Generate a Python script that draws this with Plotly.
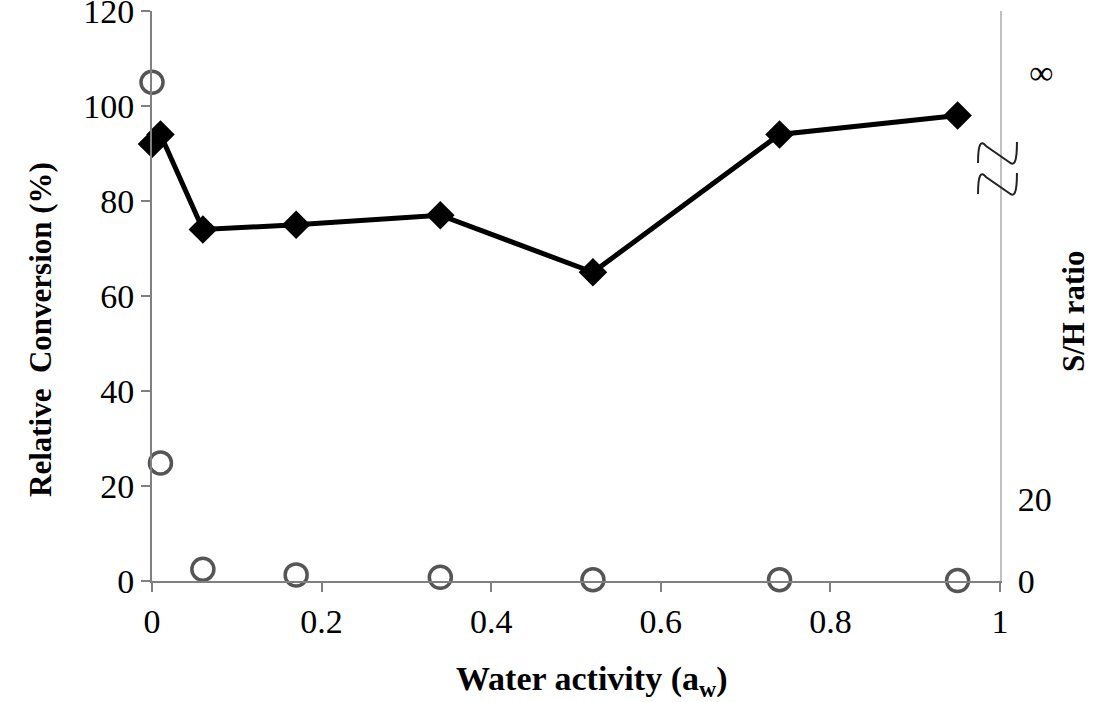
import plotly.graph_objects as go
import math

# Data
aw = [0, 0.01, 0.06, 0.17, 0.34, 0.52, 0.74, 0.95]
relative_conversion = [92, 94, 74, 75, 77, 65, 94, 98]
sh_aw = [0, 0.01, 0.06, 0.17, 0.34, 0.52, 0.74, 0.95]
sh_ratio = [math.inf, 29, 2.9, 1.5, 0.9, 0.3, 0.3, 0.1]
INF_POS = 122.5  # where "∞" is drawn on the broken S/H axis
x_ticks = [0, 0.2, 0.4, 0.6, 0.8, 1]
y_ticks = [0, 20, 40, 60, 80, 100, 120]
y2_tickvals = [0, 20, 125]
y2_ticktext = ["0", "20", "\u2004∞"]

sh_plot = [INF_POS if math.isinf(v) else v for v in sh_ratio]

FONT = "Liberation Serif"

fig = go.Figure()
fig.add_trace(go.Scatter(
    x=sh_aw, y=sh_plot, yaxis="y2", mode="markers",
    marker=dict(symbol="circle-open", size=22, color="#555555", line=dict(width=3.5, color="#555555")),
    cliponaxis=False, showlegend=False))
fig.add_trace(go.Scatter(
    x=aw, y=relative_conversion, mode="lines+markers",
    line=dict(color="black", width=5),
    marker=dict(symbol="diamond", size=22, color="black"),
    cliponaxis=False, showlegend=False))

# break symbol on right axis (paper coordinates)
def px(xp):
    return (xp - 152) / 848.0
def py(yp):
    return (581 - yp) / 570.0

def curve(dy):
    d = "M {:.4f} {:.4f}".format(px(978), py(163 + dy))
    d += " C {:.4f} {:.4f} {:.4f} {:.4f} {:.4f} {:.4f}".format(px(978), py(143 + dy), px(981), py(140 + dy), px(986), py(146 + dy))
    d += " L {:.4f} {:.4f}".format(px(1009), py(162 + dy))
    d += " C {:.4f} {:.4f} {:.4f} {:.4f} {:.4f} {:.4f}".format(px(1014), py(166 + dy), px(1017), py(164 + dy), px(1017), py(142 + dy))
    return d

shapes = []
for dy in (0, 31):
    shapes.append(dict(type="path", xref="paper", yref="paper", path=curve(dy),
                       line=dict(color="#222222", width=2)))

annotations = [
    dict(text="<b>Relative\u00a0 Conversion (%)</b>", xref="paper", yref="paper",
         x=px(40), y=py(330), xanchor="center", yanchor="middle", textangle=-90,
         showarrow=False, font=dict(size=31, family=FONT, color="black")),
    dict(text="<b>S/H ratio</b>", xref="paper", yref="paper",
         x=px(1073), y=py(312), xanchor="center", yanchor="middle", textangle=-90,
         showarrow=False, font=dict(size=31, family=FONT, color="black")),
    dict(text="<b>Water activity (a<sub>w</sub>)</b>", xref="paper", yref="paper",
         x=px(591), y=py(681), xanchor="center", yanchor="middle",
         showarrow=False, font=dict(size=34, family=FONT, color="black")),
]

fig.update_layout(
    width=1100, height=702,
    margin=dict(l=152, r=100, t=11, b=121),
    paper_bgcolor="white", plot_bgcolor="white",
    font=dict(family=FONT, size=34, color="black"),
    shapes=shapes,
    annotations=annotations,
    xaxis=dict(range=[0, 1], tickvals=x_ticks, showgrid=False, zeroline=False,
               showline=True, linecolor="#808080", linewidth=2, automargin=False,
               ticks="outside", ticklen=9, tickwidth=2, tickcolor="#808080",
               tickfont=dict(size=34, family=FONT)),
    yaxis=dict(range=[0, 120], tickvals=y_ticks, showgrid=False, zeroline=False,
               showline=True, linecolor="#808080", linewidth=2, automargin=False,
               ticks="outside", ticklen=9, tickwidth=2, tickcolor="#808080",
               ticklabeloverflow="allow",
               tickfont=dict(size=34, family=FONT)),
    yaxis2=dict(range=[0, 140], overlaying="y", side="right", tickvals=y2_tickvals, ticktext=y2_ticktext,
                showgrid=False, zeroline=False, showline=True, linecolor="#c0c0c0", linewidth=2,
                automargin=False, ticklabeloverflow="allow",
                ticks="", ticklabelstandoff=9, tickfont=dict(size=34, family=FONT)),
)

fig.write_html("out.html", config={"displayModeBar": False},
               post_script="document.body.style.margin='0';")
